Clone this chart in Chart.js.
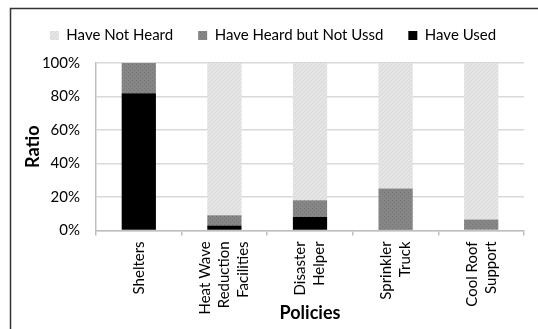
<!DOCTYPE html>
<html>
<head>
<meta charset="utf-8">
<script src="https://cdn.jsdelivr.net/npm/chart.js@4.4.0/dist/chart.umd.min.js"></script>
<style>
html, body { margin: 0; padding: 0; background: #fff; }
</style>
</head>
<body>
<canvas id="canvas" width="538" height="329"></canvas>
<script>
// categories (multi-line labels as in the original figure)
const policies = [
	['Shelters'],
	['Heat Wave', 'Reduction', 'Facilities'],
	['Disaster', 'Helper'],
	['Sprinkler', 'Truck'],
	['Cool Roof', 'Support']
];
// percentages
const haveUsed = [82, 3, 8, 0.6, 0];
const heardNotUsed = [18, 6, 10, 24.4, 6.5];
const notHeard = [0, 91, 82, 75, 93.5];
const yTicks = [0, 20, 40, 60, 80, 100];

const FONT = 'Lato, "Open Sans", "Liberation Sans", sans-serif';

function makePattern(bg, fg, kind) {
	const c = document.createElement('canvas');
	c.width = 4; c.height = 4;
	const g = c.getContext('2d');
	g.fillStyle = bg;
	g.fillRect(0, 0, 4, 4);
	g.fillStyle = fg;
	if (kind === 'hatch') {
		for (let i = 0; i < 4; i++) g.fillRect(i, 3 - i, 1, 1);
	} else {
		g.fillRect(0, 0, 1, 1);
		g.fillRect(2, 2, 1, 1);
	}
	return g.createPattern(c, 'repeat');
}

const lightPattern = makePattern('#e5e5e5', '#d8d8d8', 'hatch');
const grayPattern = makePattern('#868686', '#747474', 'dots');

// frame of the original picture (left and top edges only)
const framePlugin = {
	id: 'frame',
	afterDraw(chart) {
		const ctx = chart.ctx;
		ctx.save();
		ctx.strokeStyle = '#333';
		ctx.lineWidth = 1.5;
		ctx.beginPath();
		ctx.moveTo(10.5, 329);
		ctx.lineTo(10.5, 8.5);
		ctx.lineTo(538, 8.5);
		ctx.stroke();
		ctx.restore();
	}
};

// x labels: rotated, lines centred on the tick
const xLabelPlugin = {
	id: 'xlabels',
	afterDraw(chart) {
		const scale = chart.scales.x;
		const ctx = chart.ctx;
		const lh = 19;
		ctx.save();
		ctx.fillStyle = '#000';
		ctx.font = '15px ' + FONT;
		ctx.textAlign = 'right';
		ctx.textBaseline = 'middle';
		policies.forEach(function(lines, i) {
			const x = scale.getPixelForTick(i);
			lines.forEach(function(line, j) {
				const cx = x + (j - (lines.length - 1) / 2) * lh;
				ctx.save();
				ctx.translate(cx, scale.top + 11);
				ctx.rotate(-Math.PI / 2);
				ctx.fillText(line, 0, 0);
				ctx.restore();
			});
		});
		ctx.restore();
	}
};

// a bit more room under the legend
const legendFix = {
	id: 'legendFix',
	beforeUpdate(chart) {
		const legend = chart.legend;
		if (legend && !legend._patched) {
			const fit = legend.fit;
			legend.fit = function() {
				fit.call(this);
				this.height = this.height + 10;
			};
			legend._patched = true;
		}
	}
};

const data = {
	labels: policies,
	datasets: [{
		label: 'Have Used',
		data: haveUsed,
		backgroundColor: '#000',
		barPercentage: 0.4,
		categoryPercentage: 1
	}, {
		label: 'Have Heard but Not Ussd',
		data: heardNotUsed,
		backgroundColor: grayPattern,
		barPercentage: 0.4,
		categoryPercentage: 1
	}, {
		label: 'Have Not Heard',
		data: notHeard,
		backgroundColor: lightPattern,
		barPercentage: 0.4,
		categoryPercentage: 1
	}]
};

const config = {
	type: 'bar',
	data: data,
	options: {
		responsive: false,
		animation: false,
		devicePixelRatio: 1,
		layout: { padding: { left: 22, right: 14, top: 3, bottom: 5 } },
		plugins: {
			legend: {
				reverse: true,
				labels: {
					boxWidth: 9,
					boxHeight: 9,
					padding: 25,
					color: '#000',
					font: { family: FONT, size: 15 },
					generateLabels(chart) {
						return Chart.defaults.plugins.legend.labels.generateLabels(chart).map(function(l) {
							l.strokeStyle = 'rgba(0,0,0,0)';
							l.lineWidth = 0;
							return l;
						});
					}
				}
			},
			tooltip: { enabled: false }
		},
		scales: {
			x: {
				stacked: true,
				grid: { drawOnChartArea: false, drawTicks: true, tickLength: 5, color: '#bfbfbf', lineWidth: 1.5, offset: true },
				border: { color: '#bfbfbf', width: 1.5 },
				ticks: { display: false },
				title: { display: true, text: 'Policies', color: '#000', font: { family: FONT, size: 18, weight: 'bold' }, padding: { top: 67, bottom: 0 } }
			},
			y: {
				stacked: true,
				min: 0,
				max: 100,
				afterBuildTicks(axis) {
					axis.ticks = yTicks.map(function(v) { return { value: v }; });
				},
				afterFit(axis) {
					axis.width = 74;
				},
				grid: { color: '#d9d9d9', lineWidth: 1.5, drawTicks: false },
				border: { color: '#bfbfbf', width: 1.5 },
				ticks: {
					color: '#000',
					padding: 16,
					font: { family: FONT, size: 15 },
					callback: function(v) { return v + '%'; }
				},
				title: { display: true, text: 'Ratio', color: '#000', font: { family: FONT, size: 18, weight: 'bold' }, padding: { top: 0, bottom: 0 } }
			}
		}
	},
	plugins: [legendFix, xLabelPlugin, framePlugin]
};

window.onload = function() {
	const canvas = document.getElementById('canvas');
	const chart = new Chart(canvas, config);
};
</script>
</body>
</html>
